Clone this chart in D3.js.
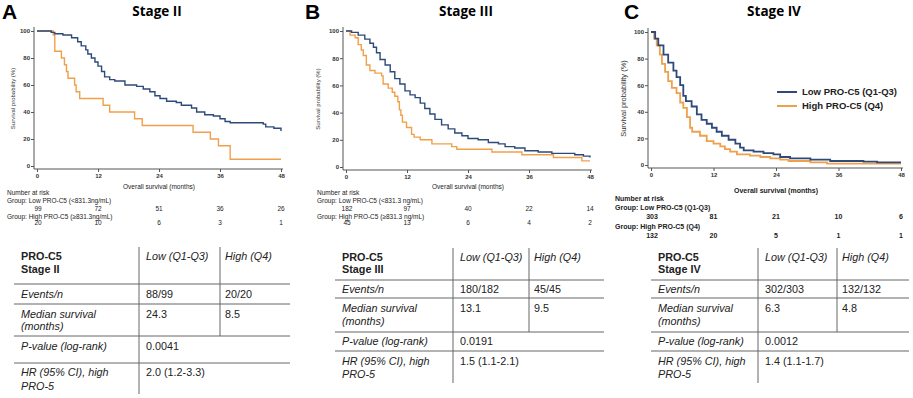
<!DOCTYPE html>
<html>
<head>
<meta charset="utf-8">
<script src="https://cdn.jsdelivr.net/npm/d3@7"></script>
<style>
  body { margin: 0; background: #fff; }
  svg text { font-family: "Liberation Sans", Arial, sans-serif; }
</style>
</head>
<body>
<svg id="fig" width="913" height="398"></svg>
<script>
// time axis and survival axis ticks
var monthTicks = [0, 12, 24, 36, 48];
var survTicks = [0, 20, 40, 60, 80, 100];

// Kaplan-Meier steps: [month, survival %]
var stageIILow = [[0,100],[2.8,99],[3.5,98],[5.1,97],[6.8,95],[8,92],[8.7,89],[9.6,86],[10,83],[10.7,80],[11.4,77],[12,74],[12.7,70],[13.3,66],[14.3,64],[15.3,63],[17.3,60],[19.6,59],[20.9,57],[22.2,55],[23.2,52],[24.2,50],[25.5,48],[27.4,47],[28.4,45],[30.4,43],[31.4,40],[33,38],[34.7,37],[36,35],[37,33],[38,32],[44.5,31],[45,29],[46.6,28],[48,26]];
var stageIIHigh = [[0,100],[3.2,97],[3.5,85],[4.8,80],[5.4,75],[5.8,70],[6.1,65],[7.4,60],[7.7,55],[8.4,50],[13,45],[14.3,40],[19.2,35],[20.7,30],[30.7,25],[34.1,20],[35.7,15],[38,5],[48,5]];

var stageIIILow = [[0,100],[1.1,99],[2.4,97],[3.7,94],[4.7,91],[5.4,88],[6,84],[6.7,79],[7.7,75],[8.7,70],[9.6,65],[10.6,61],[11.6,56],[12.6,53],[13.6,51],[14.6,47],[15.5,43],[16.5,39],[17.5,35],[18.8,31],[20.1,28],[21.4,25],[22.8,23],[24,21],[26,20],[28,18],[30,17],[31.3,15],[33.2,14],[35.2,12],[37.8,11],[40.5,10],[45,9],[46.7,8],[48,7]];
var stageIIIHigh = [[0,100],[0.8,97],[1.8,95],[2.4,90],[3,86],[3.4,82],[4,75],[4.7,71],[5.7,69],[7,67],[7.3,61],[8.3,58],[9.1,55],[9.6,52],[10.2,48],[10.5,42],[10.8,38],[11.1,33],[11.9,29],[12.9,24],[13.4,22],[14.6,20],[16.9,17],[20.8,15],[21.8,13],[28.7,11],[34.6,9],[40.8,7],[46.4,4.5],[48,4.5]];

var stageIVLow = [[0,100],[0.8,95],[1.4,90],[2.4,83],[3.3,77],[4.3,71],[4.9,66],[5.6,60],[6.2,52],[6.7,48],[7.8,44],[8.8,38],[9.7,34],[10.7,31],[11.7,28],[12.6,25],[13.6,22],[14.9,19],[16.2,16],[17.1,13],[17.8,11],[19.7,10],[21.6,9],[23.5,8],[24.8,6],[26.7,5],[30.6,4],[34.4,3],[40.8,2.5],[43.4,2],[48,2]];
var stageIVHigh = [[0,100],[0.6,95],[1.1,90],[1.7,83],[2.1,76],[2.7,70],[3.3,63],[4,58],[4.9,54],[5.6,47],[6.2,43],[6.9,36],[7.5,28],[7.9,25],[9.4,22],[10.7,18],[12,16],[13.3,14],[14.2,12],[15.2,10],[16.5,8],[19,7],[21,6],[22.9,5],[24.8,4],[26.4,3],[30.6,2],[33.8,1],[48,1]];

// number at risk
var riskIILow = [99, 72, 51, 36, 26];
var riskIIHigh = [20, 10, 6, 3, 1];
var riskIIILow = [182, 97, 40, 22, 14];
var riskIIIHigh = [45, 13, 6, 4, 2];
var riskIVLow = [303, 81, 21, 10, 6];
var riskIVHigh = [132, 20, 5, 1, 1];

// summary tables
var stageNames = ['Stage II', 'Stage III', 'Stage IV'];
var eventsLow = ['88/99', '180/182', '302/303'];
var eventsHigh = ['20/20', '45/45', '132/132'];
var medianLow = ['24.3', '13.1', '6.3'];
var medianHigh = ['8.5', '9.5', '4.8'];
var pValues = ['0.0041', '0.0191', '0.0012'];
var hrValues = ['2.0 (1.2-3.3)', '1.5 (1.1-2.1)', '1.4 (1.1-1.7)'];

var blue = '#2d4a7a', orange = '#f0a04b';

var panels = [
  { letter: 'A', lx: 2, x0: 37, x1: 281, yTop: 31, yBot: 166, low: stageIILow, high: stageIIHigh,
    riskLow: riskIILow, riskHigh: riskIIHigh,
    groupLow: 'Group: Low PRO-C5 (<831.3ng/mL)', groupHigh: 'Group: High PRO-C5 (\u2265831.3ng/mL)',
    rx: 7, rf: 6.5, rw: 'normal', ry: [189, 195, 203, 211, 219, 225], ylx: 13, lw: 1.4,
    tab: { l: 14, r: 290, v1: 139, v2: 220, top: 247, lines: [284, 304, 336, 363], bot: 394,
           base: [260, 273, 298, 318, 330, 350, 376, 390] } },
  { letter: 'B', lx: 305, x0: 346, x1: 590, yTop: 31, yBot: 167, low: stageIIILow, high: stageIIIHigh,
    riskLow: riskIIILow, riskHigh: riskIIIHigh,
    groupLow: 'Group: Low PRO-C5 (<831.3 ng/mL)', groupHigh: 'Group: High PRO-C5 (\u2265831.3 ng/mL)',
    rx: 317, rf: 6.5, rw: 'normal', ry: [189, 195, 203, 211, 219, 225], ylx: 318, lw: 1.4,
    tab: { l: 335, r: 604, v1: 453, v2: 529, top: 248, lines: [280, 298, 332, 351], bot: 383,
           base: [261, 273, 293, 312, 325, 345, 365, 378] } },
  { letter: 'C', lx: 624, x0: 651, x1: 901, yTop: 32, yBot: 165, low: stageIVLow, high: stageIVHigh,
    riskLow: riskIVLow, riskHigh: riskIVHigh,
    groupLow: 'Group: Low PRO-C5 (Q1-Q3)', groupHigh: 'Group: High PRO-C5 (Q4)',
    rx: 615, rf: 7, rw: 'bold', ry: [193, 201, 210, 219, 229, 238], ylx: 623, lw: 1.8, legend: true,
    tab: { l: 651, r: 909, v1: 758, v2: 837, top: 248, lines: [280, 298, 332, 351], bot: 383,
           base: [261, 273, 293, 312, 325, 345, 365, 378] } }
];

var svg = d3.select('#fig');

panels.forEach(function(p, i) {
  var g = svg.append('g');
  var x = d3.scaleLinear().domain([0, 48]).range([p.x0, p.x1]);
  var y = d3.scaleLinear().domain([0, 100]).range([p.yBot, p.yTop]);

  // panel letter and title
  g.append('text').attr('x', p.lx).attr('y', 19)
    .style('font-size', '21px').style('font-weight', 'bold').text(p.letter);
  g.append('text').attr('x', (p.x0 + p.x1) / 2 - 2).attr('y', 16)
    .attr('text-anchor', 'middle')
    .style('font-family', '"Open Sans", sans-serif')
    .style('font-size', '13.5px').style('font-weight', 'bold').text(stageNames[i]);

  // axes, offset from the plot origin like the original software does
  var ax = p.x0 - 3, ay = p.yBot + 3;
  var yAxis = g.append('g').attr('transform', 'translate(' + ax + ',0)')
    .call(d3.axisLeft(y).tickValues(survTicks).tickSize(3).tickSizeOuter(0));
  var xAxis = g.append('g').attr('transform', 'translate(0,' + ay + ')')
    .call(d3.axisBottom(x).tickValues(monthTicks).tickSize(3).tickSizeOuter(0));
  [yAxis, xAxis].forEach(function(a) {
    a.select('.domain').remove();
    a.selectAll('line').attr('stroke', '#555');
    a.selectAll('text').style('font-size', '6px').style('font-weight', 'bold')
      .attr('fill', '#333');
  });
  yAxis.selectAll('text').attr('x', -4);
  xAxis.selectAll('text').attr('y', 5);
  g.append('line').attr('x1', ax).attr('x2', ax).attr('y1', p.yTop - 4).attr('y2', ay)
    .attr('stroke', '#555').attr('stroke-width', 1);
  g.append('line').attr('x1', ax).attr('x2', p.x1 + 2).attr('y1', ay).attr('y2', ay)
    .attr('stroke', '#555').attr('stroke-width', 1);

  g.append('text')
    .attr('transform', 'translate(' + p.ylx + ',' + ((p.yTop + p.yBot) / 2) + ') rotate(-90)')
    .attr('text-anchor', 'middle').attr('dy', '0.35em')
    .style('font-size', p.legend ? '7.5px' : '6px').attr('fill', '#333')
    .text('Survival probability (%)');

  // curves
  var line = d3.line().x(function(d) { return x(d[0]); }).y(function(d) { return y(d[1]); })
    .curve(d3.curveStepAfter);
  g.append('path').datum(p.high).attr('d', line).attr('fill', 'none')
    .attr('stroke', orange).attr('stroke-width', p.lw);
  g.append('path').datum(p.low).attr('d', line).attr('fill', 'none')
    .attr('stroke', blue).attr('stroke-width', p.lw);

  if (p.legend) {
    var lg = g.append('g');
    [['Low PRO-C5 (Q1-Q3)', blue], ['High PRO-C5 (Q4)', orange]].forEach(function(d, k) {
      var ly = 92 + k * 14;
      lg.append('line').attr('x1', 777).attr('x2', 797).attr('y1', ly).attr('y2', ly)
        .attr('stroke', d[1]).attr('stroke-width', 2);
      lg.append('text').attr('x', 802).attr('y', ly).attr('dy', '0.35em')
        .style('font-size', '9.5px').style('font-weight', 'bold').attr('fill', '#222').text(d[0]);
    });
  }

  // number at risk
  var rt = g.append('g').attr('fill', '#222').style('font-size', p.rf + 'px')
    .style('font-weight', p.rw);
  rt.append('text').attr('x', (p.x0 + p.x1) / 2).attr('y', p.ry[0]).attr('text-anchor', 'middle')
    .text('Overall survival (months)');
  rt.append('text').attr('x', p.rx).attr('y', p.ry[1]).text('Number at risk');
  rt.append('text').attr('x', p.rx).attr('y', p.ry[2]).text(p.groupLow);
  rt.append('text').attr('x', p.rx).attr('y', p.ry[4]).text(p.groupHigh);
  [[p.riskLow, p.ry[3]], [p.riskHigh, p.ry[5]]].forEach(function(r) {
    rt.selectAll(null).data(r[0]).enter().append('text')
      .attr('x', function(d, k) { return x(monthTicks[k]) + (k === 0 ? 1 : 0); })
      .attr('y', r[1]).attr('text-anchor', 'middle')
      .text(function(d) { return d; });
  });

  // summary table
  var t = p.tab;
  var tg = g.append('g').attr('stroke', '#666').attr('stroke-width', 1);
  t.lines.forEach(function(ly) {
    tg.append('line').attr('x1', t.l).attr('x2', t.r).attr('y1', ly).attr('y2', ly);
  });
  tg.append('line').attr('x1', t.v1).attr('x2', t.v1).attr('y1', t.top).attr('y2', t.bot);
  tg.append('line').attr('x1', t.v2).attr('x2', t.v2).attr('y1', t.top).attr('y2', t.lines[2]);

  var tx = t.l + 7, tl = t.v1 + 7, th = t.v2 + 5, b = t.base;
  var cells = [
    [tx, b[0], 'PRO-C5', 'bold'], [tx, b[1], stageNames[i], 'bold'],
    [tl, b[0], 'Low (Q1-Q3)', 'italic'], [th, b[0], 'High (Q4)', 'italic'],
    [tx, b[2], 'Events/n', 'italic'], [tl, b[2], eventsLow[i]], [th, b[2], eventsHigh[i]],
    [tx, b[3], 'Median survival', 'italic'], [tx, b[4], '(months)', 'italic'],
    [tl, b[3], medianLow[i]], [th, b[3], medianHigh[i]],
    [tx, b[5], 'P-value (log-rank)', 'italic'], [tl, b[5], pValues[i]],
    [tx, b[6], 'HR (95% CI), high', 'italic'], [tx, b[7], 'PRO-5', 'italic'], [tl, b[6], hrValues[i]]
  ];
  g.append('g').selectAll('text').data(cells).enter().append('text')
    .attr('x', function(d) { return d[0]; }).attr('y', function(d) { return d[1]; })
    .style('font-size', '10.8px').attr('fill', '#222')
    .style('font-weight', function(d) { return d[3] === 'bold' ? 'bold' : 'normal'; })
    .style('font-style', function(d) { return d[3] === 'italic' ? 'italic' : 'normal'; })
    .text(function(d) { return d[2]; });
});
</script>
</body>
</html>
